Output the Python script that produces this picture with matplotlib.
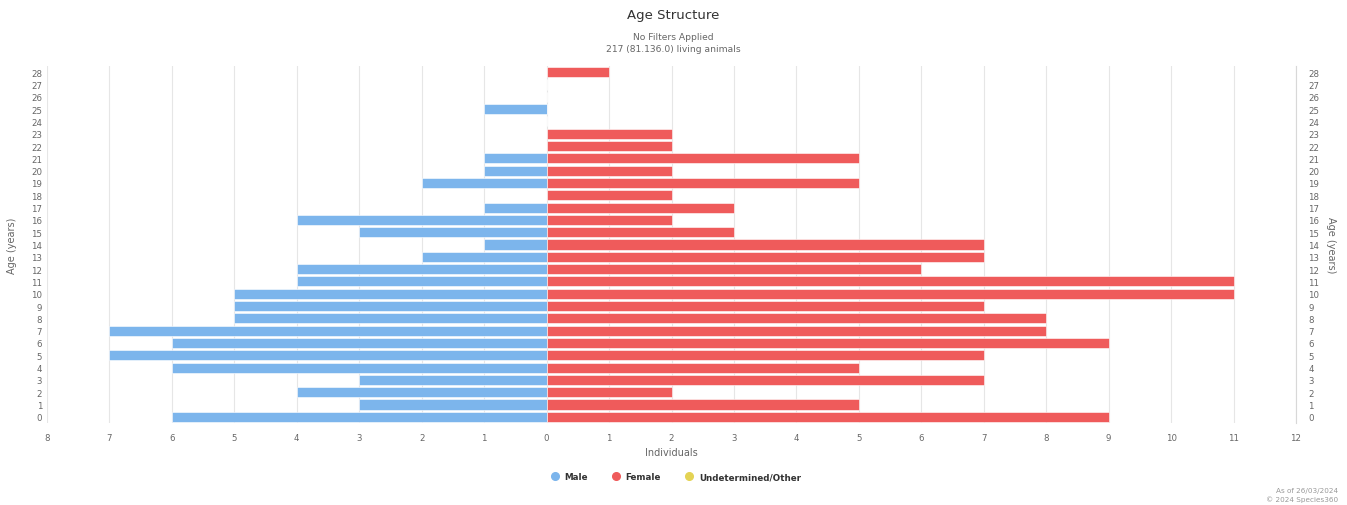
import matplotlib
matplotlib.use("Agg")
import matplotlib.pyplot as plt
from matplotlib.lines import Line2D
import numpy as np

plt.rcParams['font.family'] = ['DejaVu Sans']

ages = list(range(29))
male = [6, 3, 4, 3, 6, 7, 6, 7, 5, 5, 5, 4, 4, 2, 1, 3, 4, 1, 0, 2, 1, 1, 0, 0, 0, 1, 0, 0, 0]
female = [9, 5, 2, 7, 5, 7, 9, 8, 8, 7, 11, 11, 6, 7, 7, 3, 2, 3, 2, 5, 2, 5, 2, 2, 0, 0, 0, 0, 1]
undetermined = [0] * 29
x_ticks = list(range(-8, 13))
x_tick_labels = [str(abs(v)) for v in x_ticks]
series_names = ["Male", "Female", "Undetermined/Other"]

c_male = "#7cb5ec"
c_female = "#ef5b5b"
c_und = "#e4d354"
gray = "#666666"

fig = plt.figure(figsize=(13.47, 5.06), dpi=100)
ax = fig.add_axes([47/1347, 1-424/506, (1296-47)/1347, (424-67)/506])

y = np.array(ages)
ax.barh(y, -np.array(male), height=0.82, color=c_male, edgecolor="white", linewidth=0.4, zorder=3)
ax.barh(y, np.array(female), height=0.82, color=c_female, edgecolor="white", linewidth=0.4, zorder=3)
ax.barh(y, np.array(undetermined), left=np.array(female), height=0.82, color=c_und, zorder=3)

ax.set_xlim(-8, 12)
ax.set_ylim(-0.5, 28.5)
ax.set_xticks(x_ticks)
ax.set_xticklabels(x_tick_labels)
ax.set_yticks(ages)
ax.set_yticklabels([str(a) for a in ages])
ax.grid(axis="x", color="#e6e6e6", linewidth=0.8, zorder=0)
for s in ["top", "bottom", "left"]:
    ax.spines[s].set_visible(False)
ax.spines["right"].set_color("#d8d8d8")
ax.spines["right"].set_linewidth(0.8)
ax.tick_params(axis="both", length=0, labelsize=6.2, colors=gray)
ax.tick_params(axis="x", pad=7)
ax.set_ylabel("Age (years)", fontsize=7, color=gray, labelpad=10)
ax.set_xlabel("Individuals", fontsize=7, color=gray, labelpad=4)

ax2 = ax.twinx()
ax2.set_ylim(ax.get_ylim())
ax2.set_yticks(ages)
ax2.set_yticklabels([str(a) for a in ages])
ax2.tick_params(axis="y", length=0, labelsize=6.2, colors=gray, pad=9)
for s in ["top", "bottom", "left", "right"]:
    ax2.spines[s].set_visible(False)
ax2.set_ylabel("Age (years)", fontsize=7, color=gray, rotation=270, labelpad=12)

fig.text(0.5, 1-16/506, "Age Structure", ha="center", va="center", fontsize=9.5, color="#333333")
fig.text(0.5, 1-38/506, "No Filters Applied", ha="center", va="center", fontsize=6.6, color=gray)
fig.text(0.5, 1-49/506, "217 (81.136.0) living animals", ha="center", va="center", fontsize=6.6, color=gray)

handles = [Line2D([0], [0], marker="o", linestyle="", markersize=5.5, markerfacecolor=c, markeredgecolor=c)
           for c in [c_male, c_female, c_und]]
leg = fig.legend(handles, series_names, loc="center", bbox_to_anchor=(0.5, 1-478/506), ncol=3,
                 frameon=False, handletextpad=0.1, columnspacing=2.2,
                 prop={"weight": "bold", "size": 6.3})
for t in leg.get_texts():
    t.set_color("#333333")

fig.text(1338/1347, 1-491/506, "As of 26/03/2024", ha="right", va="center", fontsize=5.2, color="#999999")
fig.text(1338/1347, 1-500/506, "\u00a9 2024 Species360", ha="right", va="center", fontsize=5.2, color="#999999")

fig.savefig("out.png", dpi=100, facecolor="white")
